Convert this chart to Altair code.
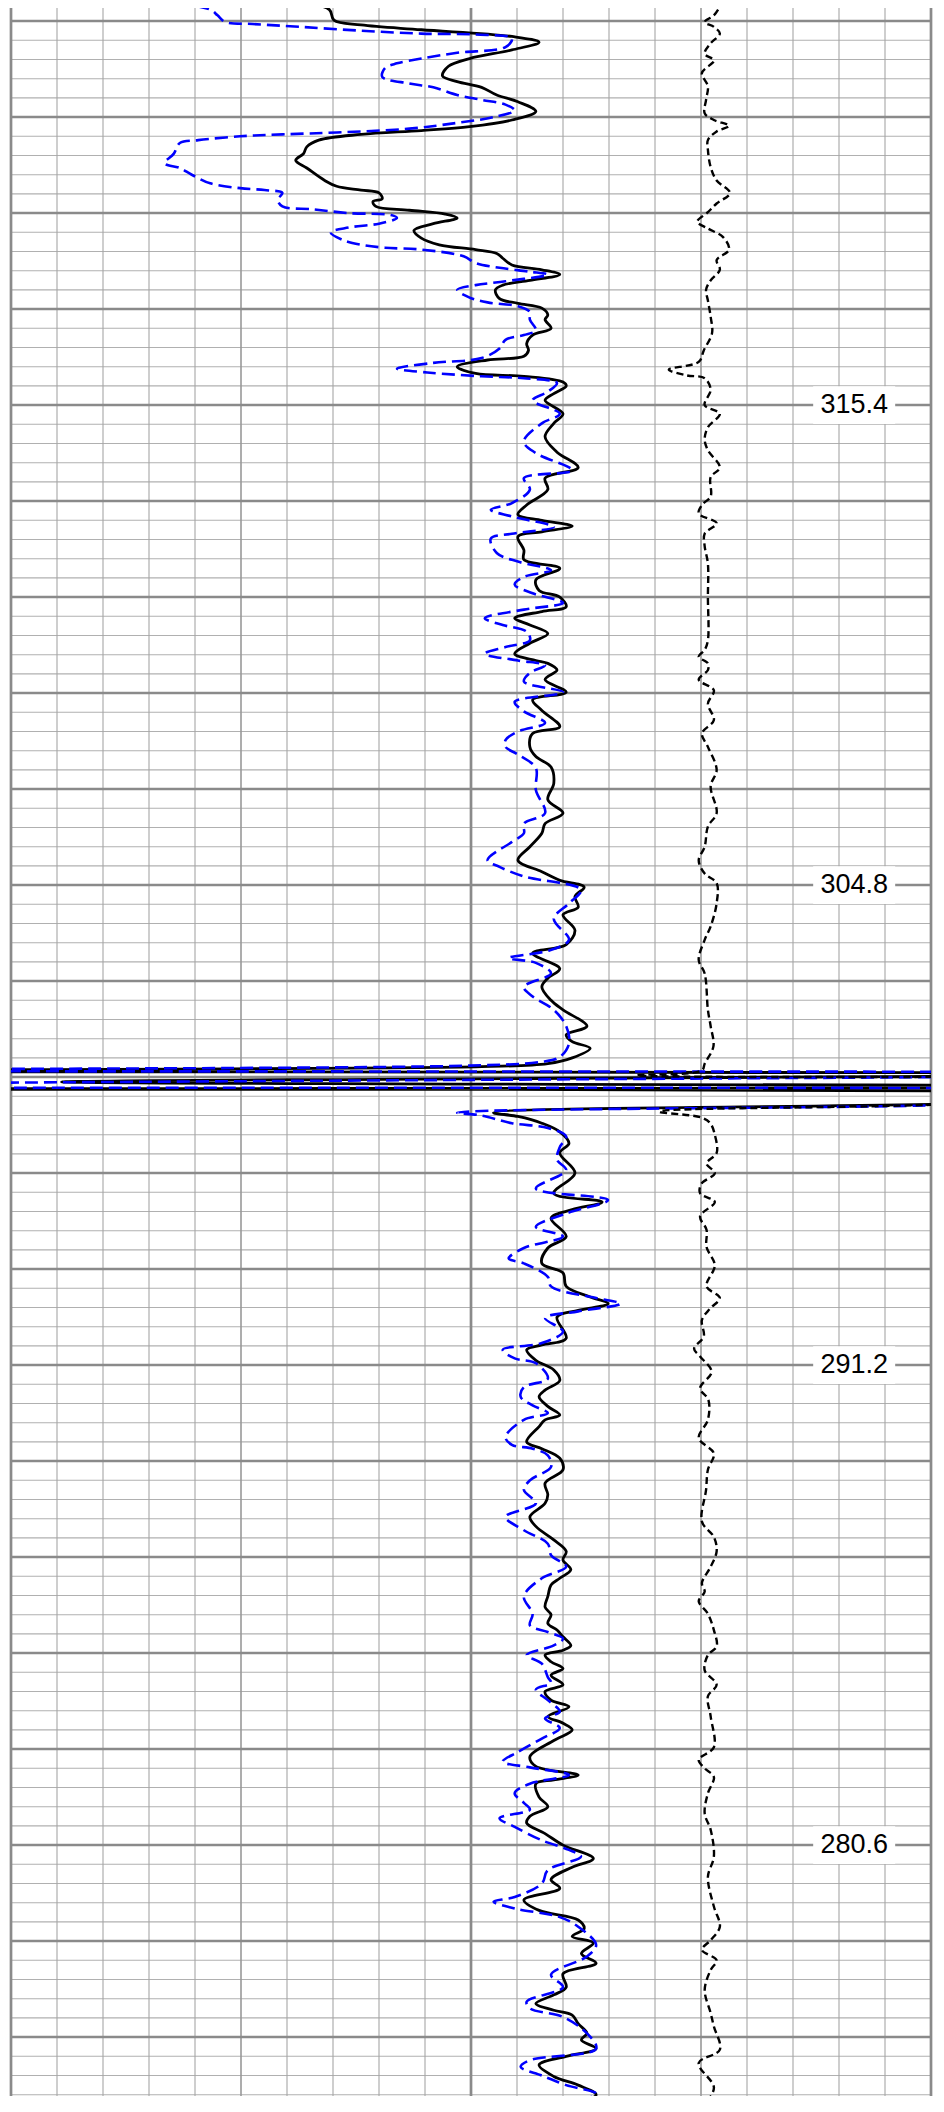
import altair as alt
import pandas as pd

# (depth, value) readings of the three log curves
solid_log = [
    (957.8, 61), (958.8, 69.2), (959.9, 70.2), (960.4, 76.1), (960.9, 89.2), (961.6, 108.9), (962.2, 114.8),
    (963.0, 108.9), (963.9, 99.7), (964.7, 95.1), (965.7, 93.8), (966.3, 97), (966.9, 102.3), (967.7, 105.6),
    (968.4, 110.2), (969.4, 114.1), (970.3, 108.9), (971.0, 99.7), (971.4, 89.2), (971.8, 76.1), (972.4, 66.9),
    (973.1, 64.3), (973.8, 63.6), (974.5, 61.9), (975.3, 64.3), (976.6, 68.2), (977.2, 70.8), (977.6, 76.1),
    (977.9, 80), (978.5, 80.7), (978.8, 78.7), (979.3, 79.3), (979.7, 86.6), (980.1, 94.4), (980.5, 97),
    (981.1, 91.8), (981.8, 87.6), (982.6, 89.2), (983.3, 93.1), (983.8, 101), (984.2, 105.6), (984.7, 106.9),
    (985.4, 108.9), (985.9, 115.4), (986.4, 119.3), (987.0, 112.8), (987.5, 106.9), (988.0, 105.3),
    (988.9, 106.2), (989.4, 110.2), (989.9, 115.4), (990.6, 116.7), (991.1, 116.1), (992.0, 117.4),
    (992.7, 113.4), (993.6, 112.1), (994.3, 112.5), (994.9, 111.5), (995.3, 103.6), (996.0, 97), (996.7, 101),
    (997.0, 111.5), (997.6, 120), (998.0, 120.7), (998.8, 118), (999.5, 116.1),
    (1000.9, 120), (1001.9, 118), (1003.3, 116.1), (1004.9, 118.7), (1006.5, 123.3), (1007.6, 116.1),
    (1008.8, 116.7), (1010.4, 112.1), (1011.4, 110.2), (1012.0, 115.4), (1012.6, 122), (1013.2, 115.4),
    (1013.7, 110.2), (1015.1, 111.5), (1016.1, 111.5), (1017.0, 119.3), (1018.2, 114.1), (1019.3, 114.8),
    (1020.0, 119.3), (1021.0, 120.7), (1021.5, 115.4), (1022.2, 109.5), (1022.9, 112.8), (1023.8, 116.7),
    (1024.8, 112.8), (1025.9, 109.5), (1026.6, 114.1), (1026.9, 116.7), (1027.6, 118.7), (1028.6, 116.1),
    (1029.9, 120.7), (1030.7, 113.4), (1031.8, 115.4), (1033.5, 119.3), (1034.2, 113.4), (1035.6, 112.8),
    (1036.6, 114.1), (1037.7, 117.4), (1039.4, 118), (1041.1, 116.7), (1042.5, 120), (1043.6, 116.1),
    (1044.6, 115.4), (1046.0, 112.8), (1047.4, 110.2), (1048.6, 115.4), (1049.5, 119.3),
    (1050.2, 124.6), (1051.2, 122.6), (1052.3, 123.3), (1053.1, 120), (1054.7, 122.6), (1056.2, 120.7),
    (1057.1, 113.4), (1058.7, 119.3), (1059.7, 116.7), (1060.6, 115.4), (1062.0, 117.4), (1063.0, 120),
    (1064.7, 125.2), (1065.6, 120.7), (1066.3, 122), (1067.0, 125.9), (1068.0, 122), (1068.6, 116.7),
    (1068.9, 102.3),
    (1069.4, -100), (1069.6, 300), (1070.5, 11), (1071.0, 300), (1071.3, -100), (1071.6, 300), (1072.8, 205),
    (1073.7, 104.9), (1074.1, 110.2), (1074.8, 115.4), (1075.7, 119.3), (1076.9, 121.3), (1077.9, 119.3),
    (1080.0, 122.6), (1082.1, 118), (1083.0, 128.5), (1083.8, 122), (1084.7, 117.4), (1086.6, 120.7),
    (1087.8, 116.7),
    (1089.4, 115.4), (1090.4, 120), (1091.8, 120.7), (1092.9, 125.9), (1093.6, 129.8), (1094.3, 123.3),
    (1095.0, 118.7), (1097.2, 120.7), (1097.9, 115.4), (1098.4, 112.1), (1099.5, 114.1), (1100.5, 118),
    (1101.6, 119.3), (1102.6, 116.1), (1103.3, 114.8), (1104.3, 116.7), (1105.2, 119.3), (1105.7, 116.1),
    (1106.4, 114.8), (1108.0, 112.1), (1108.7, 115.4), (1109.7, 119.3), (1110.9, 120), (1112.3, 116.1),
    (1113.5, 116.7), (1114.4, 116.1), (1115.8, 112.8), (1116.8, 114.1), (1118.2, 118), (1119.4, 120.7),
    (1120.3, 120), (1121.3, 121.7), (1122.2, 119.3), (1122.9, 117.4), (1124.1, 116.7), (1125.2, 116.1),
    (1126.0, 117.4), (1126.9, 116.7), (1127.6, 118.7), (1128.3, 120), (1129.2, 121.7), (1129.7, 120),
    (1130.2, 116.1), (1130.9, 117.4), (1131.6, 120), (1132.3, 117.4), (1133.3, 120), (1134.0, 116.1),
    (1134.9, 117.4), (1135.6, 121.3), (1136.6, 116.7), (1137.3, 120), (1138.0, 122), (1139.1, 118),
    (1140.8, 112.8), (1141.8, 114.1), (1142.7, 123.3), (1143.2, 118), (1143.6, 114.1), (1145.0, 114.8),
    (1146.0, 116.7), (1147.0, 112.8), (1147.7, 112.1), (1148.8, 116.1), (1150.0, 120), (1151.4, 126.6),
    (1152.3, 122), (1153.6, 117.4), (1154.5, 119.3), (1155.7, 111.5), (1156.8, 114.8), (1157.8, 123.3),
    (1158.7, 124.6), (1159.5, 122), (1160.2, 126.6), (1161.3, 124), (1162.3, 127.2), (1163.4, 120),
    (1164.8, 120.7), (1165.6, 118), (1166.5, 114.1), (1167.2, 118), (1167.7, 122), (1168.6, 123.3),
    (1169.6, 125.2), (1170.3, 124), (1171.2, 127.2), (1172.0, 120.7), (1172.9, 114.8), (1174.1, 118),
    (1175.0, 123.3), (1176.0, 127.2), (1176.9, 123.3), (1177.8, 118),
]

blue_log = [
    (957.8, 32.1), (958.1, 35.4), (958.8, 43.3), (959.4, 44.9), (960.1, 46.6), (960.3, 52.5), (960.6, 63),
    (961.0, 76.1), (961.3, 89.2), (961.4, 101), (961.8, 108.9), (962.7, 107.5), (963.3, 97), (963.9, 89.2),
    (964.4, 83.9), (964.9, 81.3), (965.8, 80.7), (966.5, 86.6), (966.9, 91.8), (967.7, 97), (968.2, 102.3),
    (968.7, 107.5), (969.3, 109.5), (970.0, 104.9), (970.6, 97), (971.2, 86.6), (971.6, 70.8), (971.8, 59),
    (972.0, 49.8), (972.4, 40.7), (972.7, 36.7), (973.8, 35.4), (974.8, 33.4), (975.3, 36.7), (976.0, 39.3),
    (976.9, 43.3), (977.4, 49.8), (977.6, 55.1), (977.9, 59), (978.6, 58), (979.3, 59), (979.6, 65.6),
    (980.0, 73.4), (980.2, 82.6), (980.5, 83.9), (981.1, 80), (981.5, 73.4), (982.0, 69.5), (982.8, 72.1),
    (983.3, 76.1), (983.6, 81.3), (983.8, 89.2), (984.5, 98.4), (985.2, 101), (985.7, 106.2), (986.1, 112.8),
    (986.4, 116.7), (987.1, 107.5), (987.5, 101), (988.0, 97), (988.8, 99.7), (989.3, 103.6), (989.7, 110.2),
    (990.3, 112.8), (991.1, 112.8), (992.2, 114.1), (992.7, 111.5), (993.2, 107.5), (994.1, 106.2),
    (995.1, 102.3), (995.6, 91.8), (996.2, 83.9), (996.6, 90.5), (997.0, 102.3), (997.2, 111.5),
    (997.7, 118.7), (998.6, 116.7), (999.5, 113.4),
    (1000.9, 119.3), (1001.9, 115.4), (1003.8, 111.5), (1005.0, 114.1), (1006.8, 122), (1007.6, 111.5),
    (1008.8, 112.8), (1010.2, 108.9), (1010.9, 104.3), (1011.6, 108.9), (1012.7, 118), (1013.4, 108.9),
    (1013.9, 104.3), (1015.4, 105.6), (1016.3, 110.2), (1017.2, 117.4), (1017.9, 111.5), (1018.7, 109.5),
    (1019.6, 113.4), (1020.6, 120), (1021.3, 111.5), (1022.2, 103), (1022.9, 106.9), (1023.6, 112.1),
    (1024.5, 112.8), (1025.2, 107.5), (1025.9, 103), (1026.6, 110.2), (1027.1, 116.1), (1027.9, 112.8),
    (1028.8, 111.5), (1029.9, 120), (1030.9, 109.5), (1031.9, 111.5), (1033.1, 116.1), (1034.0, 110.2),
    (1034.9, 107.5), (1035.6, 107.5), (1036.4, 110.2), (1037.8, 114.1), (1040.1, 114.1), (1042.5, 116.1),
    (1043.6, 111.5), (1044.6, 111.5), (1045.5, 108.9), (1047.4, 103.6), (1048.1, 106.2), (1049.1, 111.5),
    (1050.5, 123.9), (1051.9, 121.3), (1053.5, 118), (1055.7, 121.3), (1056.8, 117), (1057.6, 108.2),
    (1058.1, 114.1), (1059.2, 117.4), (1060.6, 111.5), (1061.6, 113.4), (1063.0, 118), (1064.7, 120.7),
    (1066.5, 121.3), (1067.9, 119.3), (1068.4, 115.4), (1068.8, 99.7),
    (1069.3, -100), (1069.6, 300), (1071.0, -100), (1071.5, 300), (1072.9, 205),
    (1073.7, 97), (1074.0, 102.3), (1074.8, 108.9), (1075.3, 116.7), (1076.2, 120.7), (1077.3, 119.3),
    (1078.6, 118.7), (1079.7, 120.7), (1081.6, 114.1), (1082.8, 129.8), (1084.2, 120.7), (1085.6, 114.1),
    (1086.6, 120), (1087.8, 111.5), (1088.9, 108.2),
    (1089.4, 111.5), (1090.8, 116.7), (1091.8, 117.4), (1093.0, 127.2), (1093.6, 132.5), (1094.4, 123.3),
    (1095.1, 116.1), (1096.5, 120), (1097.7, 115.4), (1098.4, 106.9), (1099.3, 109.5), (1099.8, 114.1),
    (1101.4, 116.7), (1102.3, 111.5), (1103.3, 110.8), (1104.2, 113.4), (1105.0, 116.7), (1105.7, 111.5),
    (1107.5, 107.5), (1108.3, 108.9), (1108.7, 113.4), (1109.4, 116.7), (1110.6, 117.4), (1112.0, 112.8),
    (1113.0, 111.5), (1114.4, 114.1), (1115.8, 107.5), (1117.2, 111.5), (1118.6, 116.7), (1119.8, 117.4),
    (1121.0, 120.7), (1122.2, 115.4), (1124.1, 111.5), (1125.9, 113.4), (1127.1, 112.8), (1127.8, 116.7),
    (1128.5, 120), (1129.2, 118), (1130.2, 112.1), (1131.1, 115.4), (1132.5, 116.7), (1133.1, 117.4),
    (1133.8, 114.1),
    (1134.9, 116.7), (1136.1, 119.3), (1136.8, 116.1), (1137.8, 119.3), (1138.9, 115.4), (1140.3, 110.2),
    (1141.3, 106.9), (1141.9, 112.8), (1142.7, 121.3), (1143.6, 112.8), (1144.6, 109.5), (1145.6, 111.5),
    (1146.3, 112.8), (1147.2, 106.2), (1148.1, 109.5), (1149.5, 115.4), (1150.5, 121.3), (1151.2, 123.9),
    (1152.6, 116.7), (1154.0, 115.4), (1155.4, 109.5), (1155.9, 104.9), (1156.6, 109.5), (1157.5, 119.3),
    (1158.5, 123.3), (1160.4, 127.2), (1161.6, 125.2), (1163.5, 117.4), (1164.8, 120), (1166.3, 112.1),
    (1167.0, 112.8), (1167.9, 120), (1169.6, 125.2), (1171.2, 127.2), (1172.4, 112.8), (1173.1, 110.8),
    (1174.0, 115.4), (1175.0, 120.7), (1175.9, 127.2), (1177.2, 119.3), (1177.8, 115.4),
]

dash_log = [
    (957.8, 154.8), (958.5, 154.1), (959.4, 152.8), (960.1, 150.8), (960.6, 152.8), (961.3, 154.1),
    (962.3, 152.1), (963.4, 150.8), (964.1, 152.8), (965.4, 150.2), (966.8, 151.5), (968.2, 151.1),
    (969.6, 150.8), (970.3, 152.8), (970.9, 156.1), (971.5, 153.4), (972.4, 151.5), (973.4, 151.5),
    (975.2, 152.1), (976.6, 153.4), (977.9, 156.3), (979.0, 153.4), (979.9, 151.5), (980.9, 149.2),
    (981.6, 151.5), (982.5, 154.8), (983.8, 156.1), (984.9, 153.4), (985.9, 154.1), (987.0, 152.1),
    (988.0, 151.1), (989.1, 151.5), (990.8, 152.1), (992.5, 152.4), (994.3, 150.6), (995.5, 149.5),
    (996.3, 143), (996.9, 146.9), (997.2, 150.8), (998.4, 152.1), (1000.0, 150.8), (1000.9, 154.1),
    (1002.3, 151.5), (1003.6, 150.8), (1004.7, 151.5), (1006.5, 154.1), (1007.5, 152.1), (1009.5, 152.1),
    (1010.4, 150.2), (1011.3, 149.5), (1012.3, 153.4), (1013.4, 150.8), (1014.7, 150.8), (1016.5, 151.5),
    (1020.0, 151.5), (1024.5, 151.5), (1025.5, 150.8), (1026.2, 149.5), (1026.9, 151.5), (1027.6, 151.5),
    (1028.6, 149.5), (1029.7, 152.8), (1031.1, 151.5), (1032.8, 152.8), (1034.2, 150.2), (1035.6, 151.5),
    (1038.0, 153.4), (1039.7, 152.1), (1042.5, 153.4), (1043.9, 151.5), (1046.0, 150.8), (1047.4, 149.5),
    (1048.8, 150.8), (1049.8, 153.4), (1051.9, 153.4), (1054.3, 152.1), (1055.7, 150.8), (1057.8, 149.5),
    (1059.2, 150.8), (1063.0, 151.5), (1064.7, 152.1), (1066.8, 152.7), (1068.6, 150.8), (1069.3, 150.2),
    (1069.8, 136), (1070.3, 300), (1072.8, 205), (1073.6, 141),
    (1074.2, 150), (1074.8, 152), (1076.0, 153), (1077.9, 153.4), (1079.0, 151.2), (1080.0, 153),
    (1081.1, 150.1), (1082.1, 149.8), (1083.0, 153), (1084.5, 149.8), (1085.9, 151.2), (1087.7, 151.2),
    (1089.6, 153), (1091.8, 151.2), (1093.0, 154.1), (1094.1, 152), (1095.3, 150.2), (1097.0, 150.6),
    (1098.3, 148.5), (1099.1, 149.8), (1100.7, 152.3), (1102.4, 149.8), (1103.6, 151.6), (1105.7, 151.5),
    (1107.6, 149.5), (1109.2, 152.8), (1110.9, 151.5), (1113.0, 151.1), (1116.3, 150.2), (1117.9, 152.8),
    (1119.4, 153.4), (1121.0, 152.1), (1122.7, 150.2), (1123.6, 150.8), (1124.6, 149.5), (1125.9, 151.5),
    (1127.6, 152.8), (1129.3, 153.4), (1130.2, 151.5), (1131.8, 150.8), (1133.3, 153.4), (1134.5, 151.5),
    (1136.6, 152.1), (1139.8, 152.8), (1141.1, 149.5), (1142.0, 150.8), (1142.9, 152.8), (1144.6, 151.5),
    (1146.7, 150.8), (1148.4, 152.1), (1151.2, 152.8), (1153.3, 151.5), (1156.4, 152.8), (1158.5, 154.1),
    (1159.9, 152.1), (1160.9, 150.2), (1162.0, 153.4), (1163.0, 152.1), (1165.1, 150.8), (1167.5, 152.1),
    (1168.9, 152.8), (1171.3, 154.1), (1172.7, 149.5), (1175.2, 152.8), (1176.9, 151.5), (1177.8, 152.1),
]

label_depths = [1000, 1050, 1100, 1150]
label_texts = ["315.4", "304.8", "291.2", "280.6"]
x_grid_values = list(range(0, 201, 10))
y_grid_values = list(range(958, 1178, 2))


def frame(pairs):
    return pd.DataFrame(pairs, columns=["depth", "value"])


xs = alt.Scale(domain=[0, 200], nice=False, zero=False)
ys = alt.Scale(domain=[957.8, 1176.1333], nice=False, zero=False, reverse=True)

# grid: vertical and horizontal rules drawn through the scales
xgrid_df = pd.DataFrame({"v": x_grid_values})
ygrid_df = pd.DataFrame({"d": y_grid_values})

x_minor = alt.Chart(xgrid_df).transform_filter("datum.v % 50 !== 0").mark_rule(
    color="#a6a6a6", strokeWidth=1.1
).encode(x=alt.X("v:Q", scale=xs, axis=None))

x_mid = alt.Chart(xgrid_df).transform_filter("datum.v === 50 || datum.v === 150").mark_rule(
    color="#999999", strokeWidth=1.6
).encode(x=alt.X("v:Q", scale=xs, axis=None))

y_minor = alt.Chart(ygrid_df).transform_filter("datum.d % 10 !== 0").mark_rule(
    color="#b0b0b0", strokeWidth=1.1
).encode(y=alt.Y("d:Q", scale=ys, axis=None))

y_major = alt.Chart(ygrid_df).transform_filter("datum.d % 10 === 0").mark_rule(
    color="#8a8a8a", strokeWidth=2.5
).encode(y=alt.Y("d:Q", scale=ys, axis=None))

x_major = alt.Chart(xgrid_df).transform_filter("datum.v % 100 === 0").mark_rule(
    color="#8a8a8a", strokeWidth=2.7
).encode(x=alt.X("v:Q", scale=xs, axis=None))

enc = dict(
    x=alt.X("value:Q", scale=xs, axis=None),
    y=alt.Y("depth:Q", scale=ys, axis=None),
    order=alt.Order("depth:Q"),
)

solid = alt.Chart(frame(solid_log)).mark_line(
    color="#000000", strokeWidth=2.8, interpolate="catmull-rom", clip=True
).encode(**enc)

blue = alt.Chart(frame(blue_log)).mark_line(
    color="#0000ff", strokeWidth=2.6, strokeDash=[13, 6], interpolate="catmull-rom", clip=True
).encode(**enc)

dashed = alt.Chart(frame(dash_log)).mark_line(
    color="#000000", strokeWidth=2.4, strokeDash=[7, 4], interpolate="catmull-rom", clip=True
).encode(**enc)

labels_df = pd.DataFrame({"depth": label_depths, "text": label_texts})
lx = alt.XDatum(183.3, type="quantitative", scale=xs, axis=None)
ly = alt.Y("depth:Q", scale=ys, axis=None)

box = alt.Chart(labels_df).mark_point(
    shape="M-1,-0.463L1,-0.463L1,0.463L-1,0.463Z", size=6724, filled=True,
    color="white", opacity=1, strokeWidth=0,
).encode(x=lx, y=ly)

text = alt.Chart(labels_df).mark_text(
    font="Liberation Sans", fontSize=27, color="#000000", align="center", baseline="middle"
).encode(x=lx, y=ly, text="text:N")

chart = alt.layer(
    y_minor, x_minor, x_mid, y_major, x_major, solid, blue, dashed, box, text
).properties(
    width=920,
    height=2096,
    padding={"left": 3, "top": -8, "right": 5, "bottom": 0},
    autosize=alt.AutoSizeParams(type="none"),
    background="white",
).configure_view(stroke=None)

chart.save("out.html", embed_options={"renderer": "svg", "actions": False})
